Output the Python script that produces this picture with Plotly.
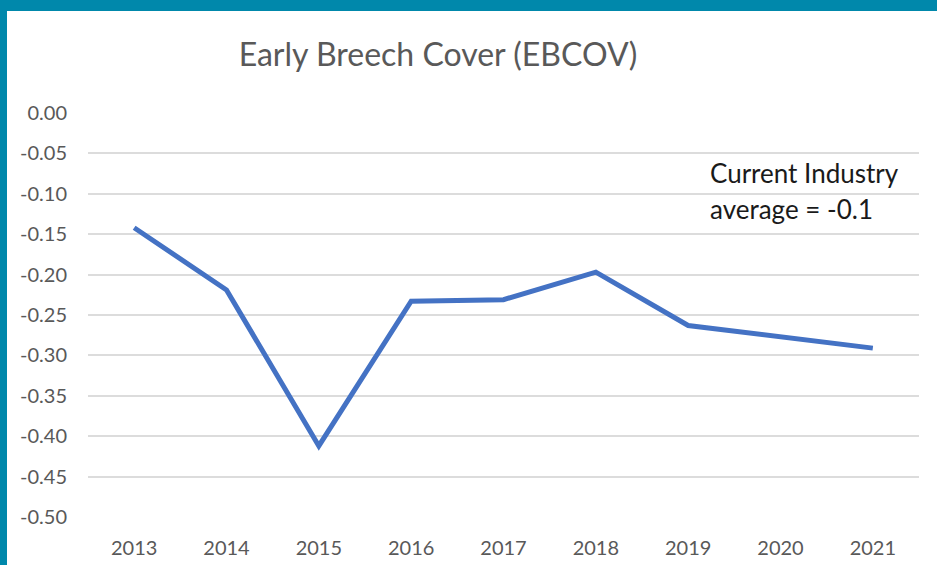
import plotly.graph_objects as go

years = ['2013', '2014', '2015', '2016', '2017', '2018', '2019', '2020', '2021']
ebcov = [-0.142, -0.219, -0.412, -0.233, -0.231, -0.197, -0.263, -0.277, -0.291]
y_ticks = [0.0, -0.05, -0.10, -0.15, -0.20, -0.25, -0.30, -0.35, -0.40, -0.45, -0.50]
note_lines = ['Current Industry', 'average = -0.1']

W, H = 937, 565
ml, mr, mt, mb = 88, 18, 113, 48
pw, ph = W - ml - mr, H - mt - mb


def px_x(px):
    return (px - ml) / pw


def px_y(py):
    return (H - mb - py) / ph


teal = '#0088ab'

fig = go.Figure()
fig.add_trace(go.Scatter(x=years, y=ebcov, mode='lines',
                         line=dict(color='#4472c4', width=5),
                         hoverinfo='x+y'))

fig.update_layout(
    width=W, height=H,
    margin=dict(l=ml, r=mr, t=mt, b=mb, autoexpand=False),
    paper_bgcolor='white', plot_bgcolor='white',
    showlegend=False,
    font=dict(family='Lato, Open Sans, sans-serif', color='#595959', size=16),
    title=dict(text='Early Breech Cover (EBCOV)', x=px_x(438), xref='paper',
               xanchor='center', y=1 - 55 / H, yanchor='middle',
               font=dict(size=32, color='#595959')),
    shapes=[
        dict(type='rect', xref='paper', yref='paper', layer='above',
             x0=px_x(0), x1=px_x(7), y0=px_y(H), y1=px_y(0),
             fillcolor=teal, line=dict(width=0)),
        dict(type='rect', xref='paper', yref='paper', layer='above',
             x0=px_x(0), x1=px_x(W), y0=px_y(11), y1=px_y(0),
             fillcolor=teal, line=dict(width=0)),
    ],
)

# the note sits as two separate lines, like the original text box
for i, line in enumerate(note_lines):
    fig.add_annotation(text=line, xref='paper', yref='paper',
                       x=px_x(708), y=px_y(173 + 36 * i),
                       xanchor='left', yanchor='middle', showarrow=False,
                       font=dict(size=26, color='#1a1a1a'))

fig.update_xaxes(type='category', range=[-0.5, 8.5], showgrid=False,
                 zeroline=False, showline=False, ticks='', automargin=False,
                 ticklabelstandoff=17, tickfont=dict(size=20))
fig.update_yaxes(range=[-0.5, 0.0], tickvals=y_ticks,
                 ticktext=['%.2f' % v if v != 0 else '0.00' for v in y_ticks],
                 showgrid=True, gridcolor='#dcdcdc', gridwidth=1.5,
                 zeroline=False, showline=False, ticks='', automargin=False,
                 ticklabelstandoff=20, tickfont=dict(size=20))

fig.write_html('out.html', config={'displayModeBar': False},
               post_script="document.body.style.margin='0';")
